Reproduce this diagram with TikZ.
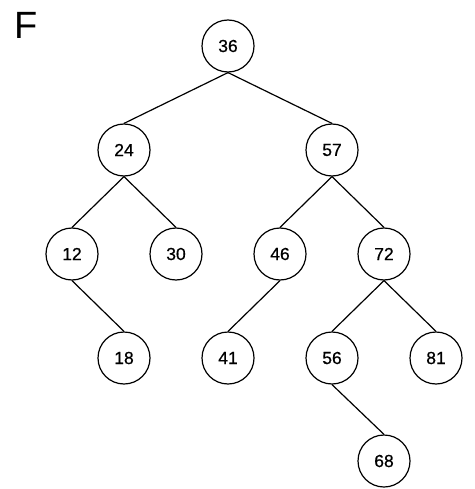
\documentclass[tikz,border=0pt]{standalone}
\usepackage{fontspec}
\setmainfont{Liberation Sans}
\newfontfamily\nodefont[FakeBold=0.6]{Liberation Sans}
\begin{document}
\begin{tikzpicture}[x=1pt,y=-1pt,
  tnode/.style={circle,draw,line width=1.2pt,minimum size=52pt,inner sep=0pt,font=\nodefont\fontsize{17.5}{20}\selectfont},
  edge/.style={line width=1.2pt}]
\useasboundingbox (0,0) rectangle (474,489);
\node[font=\fontsize{38}{40}\selectfont,anchor=north west,inner sep=0pt] (F) at (14,12) {F};
\node[tnode] (n36) at (228,46) {36};
\node[tnode] (n24) at (124,150) {24};
\node[tnode] (n57) at (332,150) {57};
\node[tnode] (n12) at (72,254) {12};
\node[tnode] (n30) at (176,254) {30};
\node[tnode] (n46) at (280,254) {46};
\node[tnode] (n72) at (384,254) {72};
\node[tnode] (n18) at (124,358) {18};
\node[tnode] (n41) at (228,358) {41};
\node[tnode] (n56) at (332,358) {56};
\node[tnode] (n81) at (436,358) {81};
\node[tnode] (n68) at (384,461) {68};
\draw[edge] (n36.south) -- (n24.north);
\draw[edge] (n36.south) -- (n57.north);
\draw[edge] (n24.south) -- (n12.north);
\draw[edge] (n24.south) -- (n30.north);
\draw[edge] (n57.south) -- (n46.north);
\draw[edge] (n57.south) -- (n72.north);
\draw[edge] (n12.south) -- (n18.north);
\draw[edge] (n46.south) -- (n41.north);
\draw[edge] (n72.south) -- (n56.north);
\draw[edge] (n72.south) -- (n81.north);
\draw[edge] (n56.south) -- (n68.north);
\end{tikzpicture}
\end{document}
